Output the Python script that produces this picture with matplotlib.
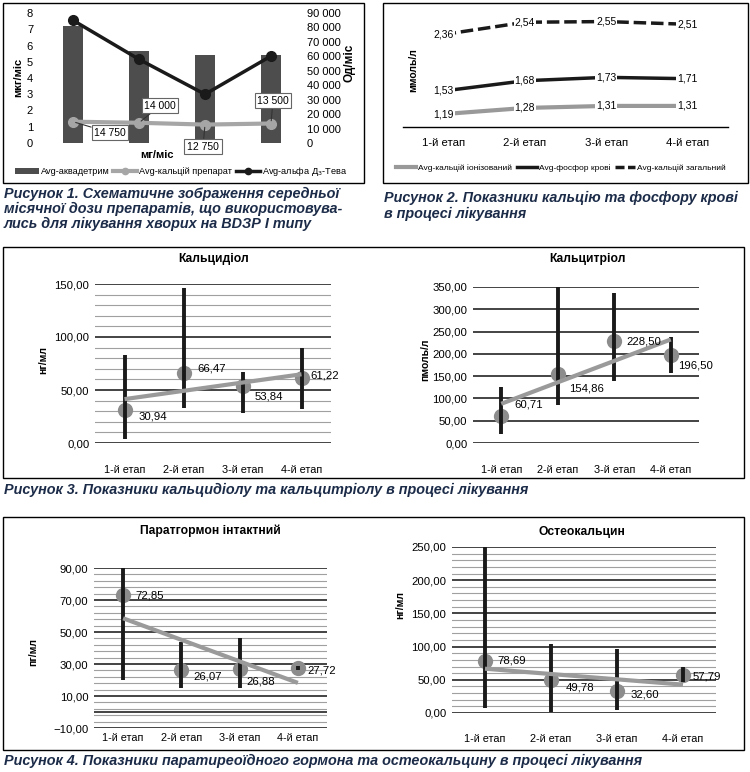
import numpy as np
import matplotlib
matplotlib.use("Agg")
import matplotlib.pyplot as plt
from matplotlib.patches import Rectangle, Patch
from matplotlib.lines import Line2D
from matplotlib.ticker import MultipleLocator, FixedLocator, FuncFormatter

plt.rcParams['font.family'] = ['Liberation Sans', 'DejaVu Sans']
plt.rcParams['font.size'] = 7.5

# ---- data ----
stages = ['1-й етап', '2-й етап', '3-й етап', '4-й етап']

# fig 1
akvadetrim = [7.2, 5.65, 5.4, 5.4]          # мкг/міс
alfa_d3 = [7.55, 5.15, 3.0, 5.35]           # left scale
calc_prep = [14750, 14000, 12750, 13500]    # Од/міс
calc_prep_labels = ['14 750', '14 000', '12 750', '13 500']

# fig 2
ca_ion = [1.19, 1.28, 1.31, 1.31]
phosphor = [1.53, 1.68, 1.73, 1.71]
ca_total = [2.36, 2.54, 2.55, 2.51]

# fig 3 / 4 : means and min-max ranges
calcidiol = [30.94, 66.47, 53.84, 61.22]
calcidiol_lo = [4, 33, 28, 32]
calcidiol_hi = [83, 146, 67, 90]

calcitriol = [60.71, 154.86, 228.50, 196.50]
calcitriol_lo = [20, 85, 140, 158]
calcitriol_hi = [125, 350, 337, 237]

pth = [72.85, 26.07, 26.88, 27.72]
pth_lo = [20, 15, 15, 26.5]
pth_hi = [90, 44, 46, 29]

osteo = [78.69, 49.78, 32.60, 57.79]
osteo_lo = [8, 2, 5, 47]
osteo_hi = [250, 104, 96, 70]

W, H = 750, 772
CAP = '#1b2b48'
CAP_SIZE = 10.4
DASH = (3.6, 1.4)


def px(x, y, w, h):
    return [x / W, 1 - (y + h) / H, w / W, h / H]


def fx(x):
    return x / W


def fy(y):
    return 1 - y / H


def comma(v, pos=None):
    s = f"{abs(v):.2f}".replace('.', ',')
    return ('\u2212' + s) if v < 0 else s


fig = plt.figure(figsize=(7.5, 7.72), dpi=100)

# frames round the panels
for (x, y, w, h) in [(3, 3, 361, 180), (383, 3, 365, 180), (3, 247, 741, 231), (3, 517, 741, 233)]:
    fig.patches.append(Rectangle((fx(x), fy(y + h)), w / W, h / H, transform=fig.transFigure,
                                 fill=False, ec='black', lw=1.0))

# ================= Figure 1 =================
ax1 = fig.add_axes(px(40, 13, 264, 130))
x = np.arange(4)
ax1.bar(x, akvadetrim, width=0.3, color='#4d4d4d', zorder=1)
ax1.plot(x, alfa_d3, color='#1a1a1a', lw=2.5, marker='o', ms=7, zorder=4)
ax1.set_ylim(0, 8)
ax1.set_xlim(-0.5, 3.5)
ax1.set_yticks(range(0, 9))
ax1.set_xticks([])
ax2 = ax1.twinx()
ax2.plot(x, calc_prep, color='#a6a6a6', lw=3, marker='o', ms=7, zorder=3)
ax2.set_ylim(0, 90000)
ax2.set_yticks(range(0, 90001, 10000))
ax2.yaxis.set_major_formatter(FuncFormatter(lambda v, p: f"{int(v):,}".replace(',', ' ')))
for a in (ax1, ax2):
    for s in a.spines.values():
        s.set_visible(False)
    a.tick_params(length=0, labelsize=8)
ax1.tick_params(axis='y', pad=5)
ax2.tick_params(axis='y', pad=2)
offs = [(37, -11), (21, 17), (-2, -22), (2, 23)]
for i, (v, lab) in enumerate(zip(calc_prep, calc_prep_labels)):
    ax2.annotate(lab, (i, v), xytext=offs[i], textcoords='offset pixels', ha='center', va='center',
                 fontsize=7.5, bbox=dict(boxstyle='square,pad=0.25', fc='white', ec='#666', lw=0.8),
                 arrowprops=dict(arrowstyle='-', color='#333', lw=0.8, shrinkA=0, shrinkB=2), zorder=6)
fig.text(fx(18), fy(77), 'мкг/міс', rotation=90, ha='center', va='center', fontsize=8, fontweight='bold')
fig.text(fx(349), fy(63), 'Од/міс', rotation=90, ha='center', va='center', fontsize=8.5, fontweight='bold')
fig.text(fx(157), fy(155), 'мг/міс', ha='center', va='center', fontsize=8, fontweight='bold')
h1 = [Patch(facecolor='#4d4d4d'),
      Line2D([], [], color='#a6a6a6', lw=3, marker='o', ms=4.5),
      Line2D([], [], color='#1a1a1a', lw=2.5, marker='o', ms=4.5)]
fig.legend(h1, ['Avg-аквадетрим', 'Avg-кальцій препарат', 'Avg-альфа Д$_3$-Тева'],
           loc='center', bbox_to_anchor=(fx(181), fy(172)), ncol=3, frameon=False, fontsize=6.6,
           handlelength=2.6, handleheight=0.6, handletextpad=0.25, columnspacing=0.4, borderpad=0)
fig.text(fx(4), fy(209), 'Рисунок 1. Схематичне зображення середньої\nмісячної дози препаратів, що використовува-\n'
         'лись для лікування хворих на ВDЗР І типу', ha='left', va='center', fontsize=CAP_SIZE,
         fontweight='bold', style='italic', color=CAP, linespacing=1.1)

# ================= Figure 2 =================
ax = fig.add_axes(px(403, 10, 325, 117))
ax.plot(x, ca_ion, color='#999999', lw=3, zorder=2)
ax.plot(x, phosphor, color='#1a1a1a', lw=2.5, zorder=2)
ax.plot(x, ca_total, color='#1a1a1a', lw=2.5, dashes=DASH, zorder=2)
for series in (ca_ion, phosphor, ca_total):
    for i, v in enumerate(series):
        ax.text(i, v, f"{v:.2f}".replace('.', ','), ha='center', va='center', fontsize=7.5,
                bbox=dict(boxstyle='square,pad=0.1', fc='white', ec='none'), zorder=4)
ax.set_xlim(-0.5, 3.5)
ax.set_ylim(1.0, 2.72)
ax.set_yticks([])
ax.set_xticks(x)
ax.set_xticklabels(stages, fontsize=8.2)
ax.tick_params(length=0, pad=8)
for k in ('left', 'right', 'top'):
    ax.spines[k].set_visible(False)
ax.spines['bottom'].set_linewidth(1.0)
fig.text(fx(413), fy(70), 'ммоль/л', rotation=90, ha='center', va='center', fontsize=7.5, fontweight='bold')
h2 = [Line2D([], [], color='#999999', lw=3), Line2D([], [], color='#1a1a1a', lw=2.5),
      Line2D([], [], color='#1a1a1a', lw=2.5, dashes=(2.6, 1.0))]
fig.legend(h2, ['Avg-кальцій іонізований', 'Avg-фосфор крові', 'Avg-кальцій загальний'],
           loc='center', bbox_to_anchor=(fx(561), fy(168)), ncol=3, frameon=False, fontsize=6.0,
           handlelength=2.4, handletextpad=0.3, columnspacing=0.5, borderpad=0)
fig.text(fx(384), fy(206), 'Рисунок 2. Показники кальцію та фосфору крові\nв процесі лікування',
         ha='left', va='center', fontsize=CAP_SIZE, fontweight='bold', style='italic', color=CAP, linespacing=1.1)


# ================= Figures 3 and 4 =================
def range_chart(rect, mean, lo, hi, ylim, major, minor, title, title_xy, ylabel, ylabel_xy,
                label_offs, tick_pad, zero_line=False):
    a = fig.add_axes(px(*rect))
    xs = np.arange(len(mean))
    a.set_axisbelow(True)
    a.set_ylim(*ylim)
    a.set_xlim(-0.5, len(mean) - 0.5)
    a.yaxis.set_major_locator(major)
    if minor is not None:
        a.yaxis.set_minor_locator(minor)
        a.grid(True, axis='y', which='minor', color='#a0a0a0', lw=0.8)
    a.grid(True, axis='y', which='major', color='#111111', lw=1.1)
    if zero_line:
        a.axhline(0, color='#111111', lw=1.1, zorder=1)
    a.yaxis.set_major_formatter(FuncFormatter(comma))
    a.set_xticks(xs)
    a.set_xticklabels(stages, fontsize=7.8)
    a.tick_params(axis='both', which='both', length=0)
    a.tick_params(axis='x', pad=tick_pad)
    a.tick_params(axis='y', labelsize=8.2, pad=4)
    for s in a.spines.values():
        s.set_visible(False)
    a.plot(xs, mean, 'o', color='#8c8c8c', ms=11, zorder=3, mec='none')
    a.vlines(xs, lo, hi, color='#1a1a1a', lw=2.8, zorder=4)
    k, b = np.polyfit(xs + 1, mean, 1)
    a.plot(xs, k * (xs + 1) + b, color='#9a9a9a', lw=3, zorder=5, solid_capstyle='butt')
    for i, v in enumerate(mean):
        a.annotate(f"{v:.2f}".replace('.', ','), (i, v), xytext=label_offs[i], textcoords='offset pixels',
                   ha='left', va='center', fontsize=8.2, zorder=6)
    fig.text(fx(title_xy[0]), fy(title_xy[1]), title, ha='center', va='center', fontsize=8.7, fontweight='bold')
    fig.text(fx(ylabel_xy[0]), fy(ylabel_xy[1]), ylabel, rotation=90, ha='center', va='center',
             fontsize=7.5, fontweight='bold')
    return a


range_chart((95, 284, 236, 159), calcidiol, calcidiol_lo, calcidiol_hi, (0, 150),
            MultipleLocator(50), MultipleLocator(10), 'Кальцидіол', (214, 259), 'нг/мл', (43, 360),
            [(14, -6), (14, 4), (12, -11), (9, 3)], 16)
range_chart((473, 287, 226, 156), calcitriol, calcitriol_lo, calcitriol_hi, (0, 350),
            MultipleLocator(50), None, 'Кальцитріол', (588, 259), 'пмоль/л', (425, 360),
            [(13, 11), (11, -15), (12, 0), (7, -10)], 16)
range_chart((94, 568, 233, 160), pth, pth_lo, pth_hi, (-10, 90),
            FixedLocator(np.arange(-10, 91, 20)), FixedLocator(np.arange(-10, 91, 4)),
            'Паратгормон інтактний', (210, 531), 'пг/мл', (33, 652),
            [(12, 0), (12, -6), (7, -13), (10, -3)], 3.5, zero_line=True)
range_chart((452, 547, 264, 166), osteo, osteo_lo, osteo_hi, (0, 250),
            MultipleLocator(50), MultipleLocator(10), 'Остеокальцин', (582, 532), 'нг/мл', (400, 605),
            [(12, 0), (15, -8), (14, -3), (10, -2)], 15)

fig.text(fx(4), fy(490), 'Рисунок 3. Показники кальцидіолу та кальцитріолу в процесі лікування',
         ha='left', va='center', fontsize=CAP_SIZE, fontweight='bold', style='italic', color=CAP)
fig.text(fx(4), fy(761), 'Рисунок 4. Показники паратиреоїдного гормона та остеокальцину в процесі лікування',
         ha='left', va='center', fontsize=CAP_SIZE, fontweight='bold', style='italic', color=CAP)

fig.savefig('out.png', dpi=100)
